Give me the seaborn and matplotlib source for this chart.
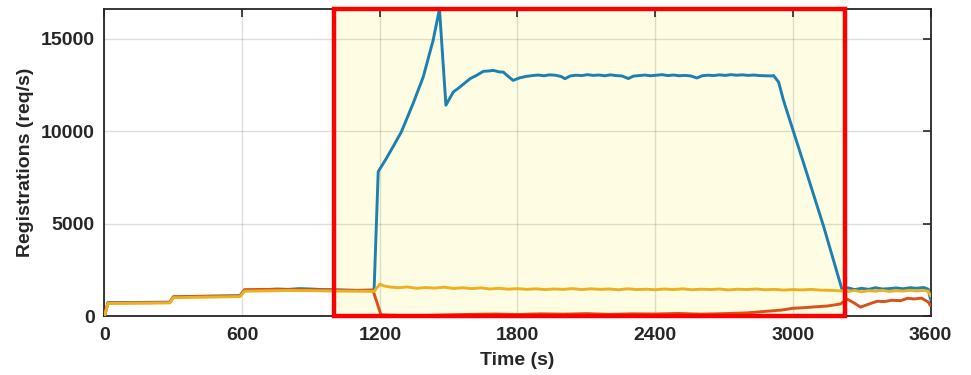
# -*- coding: utf-8 -*-
# Registrations over time, highlighted overload window
import matplotlib
matplotlib.use("Agg")
import matplotlib.pyplot as plt
import matplotlib.patches as mpatches
import seaborn as sns
import pandas as pd

# %% Data
blue_t = [0, 15, 100, 200, 285, 300, 400, 500, 590, 610, 700, 750, 800, 850, 900,
          950, 1000, 1050, 1100, 1140, 1175, 1193, 1225, 1258, 1294, 1345, 1389,
          1432, 1460, 1488, 1520, 1549, 1593, 1620, 1651, 1675, 1695, 1720, 1738,
          1760, 1781, 1810, 1840, 1865, 1890, 1915, 1940, 1965, 1990, 2007, 2030,
          2055, 2080, 2105, 2130, 2155, 2180, 2205, 2230, 2255, 2283, 2305, 2330,
          2355, 2380, 2405, 2430, 2455, 2480, 2505, 2530, 2555, 2582, 2605, 2630,
          2655, 2680, 2705, 2730, 2755, 2780, 2805, 2830, 2855, 2880, 2905, 2916,
          2938, 2959, 3003, 3047, 3134, 3214, 3240, 3270, 3300, 3330, 3360, 3390,
          3420, 3450, 3480, 3510, 3540, 3570, 3590, 3600]
blue_v = [0, 720, 730, 740, 750, 1030, 1060, 1080, 1100, 1400, 1420, 1460, 1440,
          1480, 1460, 1430, 1420, 1400, 1390, 1390, 1400, 7810, 8450, 9160, 9960,
          11490, 12920, 14890, 16600, 11400, 12110, 12380, 12830, 13000, 13230,
          13250, 13280, 13200, 13190, 12950, 12740, 12880, 12960, 13000, 13030,
          12990, 13040, 13020, 12950, 12830, 12980, 13020, 13000, 13050, 13010,
          13030, 12990, 13040, 13000, 12980, 12840, 12970, 13000, 13030, 12990,
          13020, 13050, 13000, 13030, 12990, 13010, 12980, 12870, 12990, 13020,
          13000, 13040, 13010, 13050, 13020, 13040, 13010, 13030, 13000, 12990,
          12980, 13000, 12650, 11670, 9960, 8260, 4850, 1450, 1520, 1430, 1500,
          1440, 1530, 1460, 1480, 1520, 1470, 1530, 1500, 1540, 1450, 900]

orange_t = [0, 15, 100, 200, 285, 300, 400, 500, 590, 610, 700, 800, 900, 1000,
            1100, 1170, 1205, 1300, 1400, 1500, 1600, 1700, 1800, 1900, 2000,
            2100, 2200, 2300, 2400, 2500, 2600, 2700, 2800, 2850, 2900, 2950,
            3000, 3050, 3100, 3150, 3207, 3237, 3265, 3295, 3330, 3368, 3400,
            3430, 3470, 3500, 3530, 3560, 3590, 3600]
orange_v = [0, 700, 710, 720, 730, 1040, 1060, 1070, 1080, 1420, 1440, 1430, 1420,
            1400, 1380, 1400, 60, 20, 30, 60, 90, 110, 80, 120, 100, 130, 90, 120,
            110, 140, 100, 130, 170, 220, 270, 320, 420, 450, 500, 540, 650, 910,
            720, 480, 640, 800, 780, 850, 830, 960, 920, 970, 760, 550]

yellow_t = [0, 15, 100, 200, 285, 300, 400, 500, 590, 610, 700, 800, 900, 1000,
            1100, 1175, 1200, 1220, 1250, 1280, 1320, 1360, 1400, 1440, 1480, 1520,
            1560, 1600, 1640, 1680, 1720, 1760, 1800, 1840, 1880, 1920, 1960, 2000,
            2040, 2080, 2120, 2160, 2200, 2240, 2280, 2320, 2360, 2400, 2440, 2480,
            2520, 2560, 2600, 2640, 2680, 2720, 2760, 2800, 2840, 2880, 2920, 2960,
            3000, 3040, 3080, 3120, 3160, 3210, 3240, 3270, 3300, 3330, 3360, 3390,
            3420, 3450, 3480, 3510, 3540, 3570, 3590, 3600]
yellow_v = [0, 680, 690, 700, 710, 990, 1010, 1030, 1050, 1340, 1360, 1380, 1370,
            1350, 1340, 1330, 1720, 1620, 1560, 1530, 1570, 1500, 1540, 1510, 1560,
            1490, 1530, 1480, 1520, 1460, 1500, 1450, 1480, 1440, 1470, 1430, 1460,
            1440, 1480, 1430, 1470, 1440, 1460, 1420, 1470, 1430, 1450, 1420, 1460,
            1430, 1470, 1420, 1450, 1430, 1460, 1410, 1450, 1430, 1460, 1420, 1440,
            1400, 1430, 1410, 1440, 1400, 1390, 1360, 1330, 1380, 1310, 1370, 1340,
            1390, 1330, 1370, 1350, 1390, 1360, 1380, 1340, 1100]

x_ticks = [0, 600, 1200, 1800, 2400, 3000, 3600]
y_ticks = [0, 5000, 10000, 15000]
window = (1000, 3228)

# %% Style
sns.set_style("white")
plt.rcParams["font.family"] = ["Liberation Sans", "DejaVu Sans"]
plt.rcParams["font.weight"] = "bold"

fig = plt.figure(figsize=(9.71, 3.75), dpi=100)
ax = fig.add_axes([0.1076, 0.1573, 0.8507, 0.8187])
ymax = 16600

# highlighted window: fill below the lines, red frame on top
ax.add_patch(mpatches.Rectangle((window[0], 0), window[1] - window[0], ymax,
                                facecolor="#fefde4", edgecolor="none", zorder=0))

series = [
    (blue_t, blue_v, "#1c80b0"),
    (orange_t, orange_v, "#d95319"),
    (yellow_t, yellow_v, "#edb120"),
]
for t, v, c in series:
    df = pd.DataFrame({"t": t, "v": v})
    sns.lineplot(data=df, x="t", y="v", color=c, linewidth=2.1, ax=ax, zorder=3)

ax.add_patch(mpatches.Rectangle((window[0], 0), window[1] - window[0], ymax,
                                facecolor="none", edgecolor="#ff0000",
                                linewidth=3.2, zorder=5, clip_on=False))

ax.set_xlim(0, 3600)
ax.set_ylim(0, ymax)
ax.set_xticks(x_ticks)
ax.set_yticks(y_ticks)
ax.grid(True, color="#000000", alpha=0.13, linewidth=1.0)
ax.tick_params(direction="in", length=6, width=1.2, top=True, right=True,
               labelsize=14, colors="#262626")
ax.tick_params(axis="x", pad=8)
ax.tick_params(axis="y", pad=7)
for lab in ax.get_xticklabels() + ax.get_yticklabels():
    lab.set_fontweight("bold")
for s in ax.spines.values():
    s.set_color("#262626")
    s.set_linewidth(1.3)

ax.set_xlabel("Time (s)", fontsize=14, fontweight="bold", color="#262626", labelpad=6)
ax.set_ylabel("Registrations (req/s)", fontsize=14, fontweight="bold",
              color="#262626", labelpad=5)

fig.savefig("out.png", dpi=100)
